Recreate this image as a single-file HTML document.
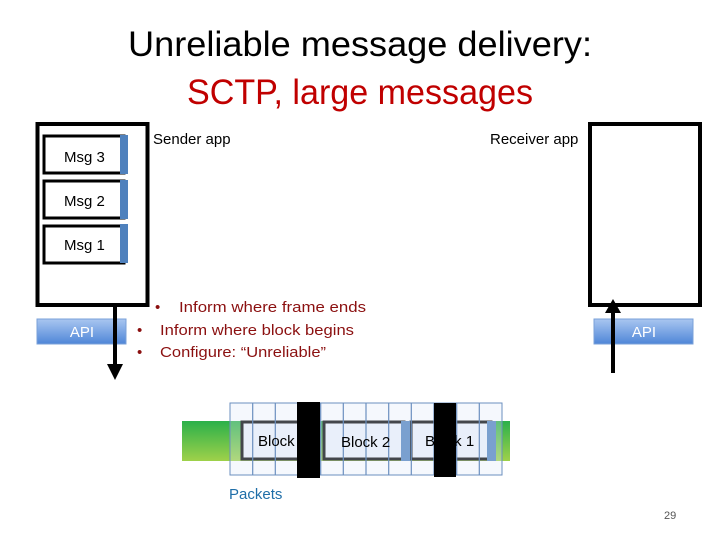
<!DOCTYPE html>
<html><head><style>body{margin:0;background:#fff}svg{display:block}</style></head><body>
<svg width="720" height="540" viewBox="0 0 720 540" xmlns="http://www.w3.org/2000/svg" font-family="Liberation Sans, sans-serif">
<defs>
<linearGradient id="g" x1="0" y1="0" x2="0" y2="1"><stop offset="0" stop-color="#2bb04a"/><stop offset="1" stop-color="#9fd14a"/></linearGradient>
<linearGradient id="api" x1="0" y1="0" x2="0" y2="1"><stop offset="0" stop-color="#a9c6f0"/><stop offset="1" stop-color="#4f86d8"/></linearGradient>
</defs>
<text x="360" y="56" font-size="35" text-anchor="middle" fill="#000" textLength="464" lengthAdjust="spacingAndGlyphs">Unreliable message delivery:</text>
<text x="360" y="104" font-size="35" text-anchor="middle" fill="#c00000" textLength="346" lengthAdjust="spacingAndGlyphs">SCTP, large messages</text>
<rect x="37.5" y="124" width="110" height="181" fill="#fff" stroke="#000" stroke-width="4"/>
<rect x="590" y="124" width="110" height="181" fill="#fff" stroke="#000" stroke-width="4"/>
<g stroke="#000" stroke-width="3" fill="#fff">
<rect x="44" y="136" width="80" height="37"/>
<rect x="44" y="181" width="80" height="37"/>
<rect x="44" y="226" width="80" height="37"/>
</g>
<g fill="#4f81bd"><rect x="120" y="135" width="8" height="39"/><rect x="120" y="180" width="8" height="39"/><rect x="120" y="224" width="8" height="39"/></g>
<g font-size="15" fill="#000"><text x="64" y="162">Msg 3</text><text x="64" y="206">Msg 2</text><text x="64" y="250">Msg 1</text>
<text x="153" y="144">Sender app</text><text x="490" y="144">Receiver app</text></g>
<rect x="37" y="319" width="89" height="25" fill="url(#api)" stroke="#7aa0d8"/>
<rect x="594" y="319" width="99" height="25" fill="url(#api)" stroke="#7aa0d8"/>
<text x="82" y="337" font-size="15" fill="#fff" text-anchor="middle">API</text>
<text x="644" y="337" font-size="15" fill="#fff" text-anchor="middle">API</text>
<line x1="115" y1="305" x2="115" y2="365" stroke="#000" stroke-width="4"/>
<polygon points="107,364 123,364 115,380" fill="#000"/>
<line x1="613" y1="373" x2="613" y2="312" stroke="#000" stroke-width="4"/>
<polygon points="605,313 621,313 613,299" fill="#000"/>
<g font-size="15" fill="#8b1010">
<text x="155" y="312">•</text><text x="179" y="312" textLength="187" lengthAdjust="spacingAndGlyphs">Inform where frame ends</text>
<text x="137" y="335">•</text><text x="160" y="335" textLength="194" lengthAdjust="spacingAndGlyphs">Inform where block begins</text>
<text x="137" y="357">•</text><text x="160" y="357" textLength="166" lengthAdjust="spacingAndGlyphs">Configure: “Unreliable”</text>
</g>
<rect x="182" y="421" width="328" height="40" fill="url(#g)"/>
<g stroke="#000" stroke-width="3" fill="#eef3fb">
<rect x="242" y="422" width="57" height="37"/>
<rect x="324" y="422" width="80" height="37"/>
<rect x="411" y="422" width="80" height="37"/>
</g>
<rect x="401" y="421" width="9" height="40" fill="#4f81bd"/>
<rect x="487" y="421" width="9" height="40" fill="#4f81bd"/>
<rect x="230" y="403" width="272" height="72" fill="#dde8f7" fill-opacity="0.3" stroke="#6b8fbf"/>
<g stroke="#6b8fbf" stroke-width="1.2">
<line x1="252.7" y1="403" x2="252.7" y2="475"/><line x1="275.3" y1="403" x2="275.3" y2="475"/><line x1="298" y1="403" x2="298" y2="475"/><line x1="320.7" y1="403" x2="320.7" y2="475"/><line x1="343.3" y1="403" x2="343.3" y2="475"/><line x1="366" y1="403" x2="366" y2="475"/><line x1="388.7" y1="403" x2="388.7" y2="475"/><line x1="411.3" y1="403" x2="411.3" y2="475"/><line x1="434" y1="403" x2="434" y2="475"/><line x1="456.7" y1="403" x2="456.7" y2="475"/><line x1="479.3" y1="403" x2="479.3" y2="475"/>
</g>
<g font-size="15" fill="#000"><text x="258" y="446">Block</text><text x="341" y="447">Block 2</text><text x="425" y="446">Block 1</text></g>
<rect x="297" y="402" width="23" height="76" fill="#000"/>
<rect x="434" y="403" width="22" height="74" fill="#000"/>
<text x="229" y="499" font-size="15" fill="#1f6ea8">Packets</text>
<text x="664" y="519" font-size="11" fill="#555">29</text>
</svg>
</body></html>
